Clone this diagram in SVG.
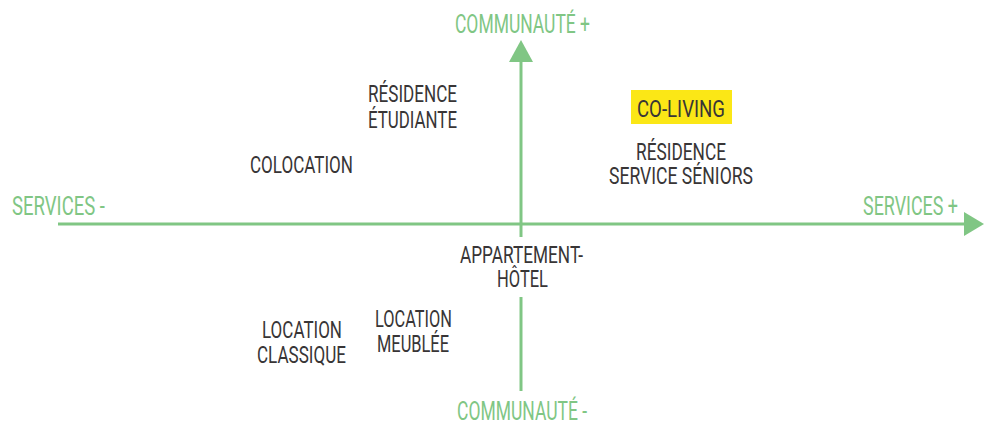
<svg xmlns="http://www.w3.org/2000/svg" width="984" height="424" viewBox="0 0 984 424">
  <style>
    .axis { stroke: #80c684; stroke-width: 3; fill: none; }
    .head { fill: #80c684; }
    .pole { font-family: Roboto, "Liberation Sans", sans-serif; font-weight: 400; font-size: 26px; fill: #80c684; }
    .lbl { font-family: Roboto, "Liberation Sans", sans-serif; font-weight: 400; font-size: 24px; fill: #383536; }
  </style>
  <rect width="984" height="424" fill="#ffffff"/>

  <!-- axes -->
  <g id="connectors">
    <line class="axis" x1="58" y1="224" x2="966" y2="224"/>
    <polygon class="head" points="964,212 984,224 964,236"/>
    <line class="axis" x1="521" y1="60" x2="521" y2="237"/>
    <line class="axis" x1="521" y1="297" x2="521" y2="391"/>
    <polygon class="head" points="509,62 521,40 533,62"/>
  </g>

  <!-- axis poles -->
  <g id="communaute-plus">
    <text class="pole" x="455" y="33" textLength="135" lengthAdjust="spacingAndGlyphs">COMMUNAUTÉ +</text>
  </g>
  <g id="communaute-moins">
    <text class="pole" x="457" y="420" textLength="130" lengthAdjust="spacingAndGlyphs">COMMUNAUTÉ -</text>
  </g>
  <g id="services-moins">
    <text class="pole" x="12" y="215" textLength="93" lengthAdjust="spacingAndGlyphs">SERVICES -</text>
  </g>
  <g id="services-plus">
    <text class="pole" x="863" y="215" textLength="95" lengthAdjust="spacingAndGlyphs">SERVICES +</text>
  </g>

  <!-- housing types -->
  <g id="residence-etudiante">
    <text class="lbl" x="368" y="102" textLength="89" lengthAdjust="spacingAndGlyphs">RÉSIDENCE</text>
    <text class="lbl" x="368" y="128" textLength="89" lengthAdjust="spacingAndGlyphs">ÉTUDIANTE</text>
  </g>
  <g id="colocation">
    <text class="lbl" x="250" y="173" textLength="103" lengthAdjust="spacingAndGlyphs">COLOCATION</text>
  </g>
  <g id="co-living">
    <rect x="631" y="90" width="101" height="34" fill="#fbe716"/>
    <text class="lbl" x="637" y="117" textLength="88" lengthAdjust="spacingAndGlyphs">CO-LIVING</text>
  </g>
  <g id="residence-seniors">
    <text class="lbl" x="636" y="160" textLength="90" lengthAdjust="spacingAndGlyphs">RÉSIDENCE</text>
    <text class="lbl" x="609" y="184" textLength="144" lengthAdjust="spacingAndGlyphs">SERVICE SÉNIORS</text>
  </g>
  <g id="appart-hotel">
    <text class="lbl" x="460" y="263" textLength="123" lengthAdjust="spacingAndGlyphs">APPARTEMENT-</text>
    <text class="lbl" x="497" y="287" textLength="51" lengthAdjust="spacingAndGlyphs">HÔTEL</text>
  </g>
  <g id="location-classique">
    <text class="lbl" x="262" y="338" textLength="80" lengthAdjust="spacingAndGlyphs">LOCATION</text>
    <text class="lbl" x="257" y="363" textLength="89" lengthAdjust="spacingAndGlyphs">CLASSIQUE</text>
  </g>
  <g id="location-meublee">
    <text class="lbl" x="375" y="327" textLength="77" lengthAdjust="spacingAndGlyphs">LOCATION</text>
    <text class="lbl" x="377" y="352" textLength="72" lengthAdjust="spacingAndGlyphs">MEUBLÉE</text>
  </g>
</svg>
